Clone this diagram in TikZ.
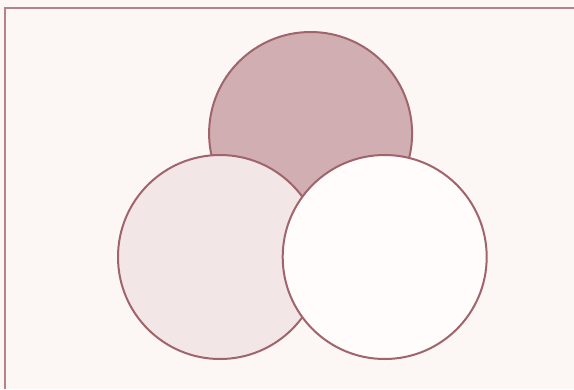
\documentclass[tikz,border=0pt]{standalone}
\usepackage{tikz}

\definecolor{paper}{HTML}{FCF7F5}
\definecolor{rim}{HTML}{A0646B}
\definecolor{darkfill}{HTML}{D1AEB1}
\definecolor{lightfill}{HTML}{F3E6E7}
\definecolor{whitefill}{HTML}{FFFCFB}

\tikzset{
    disc/.style={draw=rim, line width=2pt},
}

\begin{document}
\begin{tikzpicture}[x=1pt, y=-1pt]
    % Page and frame
    \fill[paper] (0,0) rectangle (574,389);
    \useasboundingbox (0,0) rectangle (574,389);
    \draw[rim!80, line width=1.5pt] (5,389) -- (5,8) -- (574,8);

    % Three overlapping discs
    \filldraw[disc, fill=darkfill] (310.6,133.5) circle (101.5);
    \filldraw[disc, fill=lightfill] (220,257) circle (102);
    \filldraw[disc, fill=whitefill] (384.7,257) circle (102);
\end{tikzpicture}
\end{document}
